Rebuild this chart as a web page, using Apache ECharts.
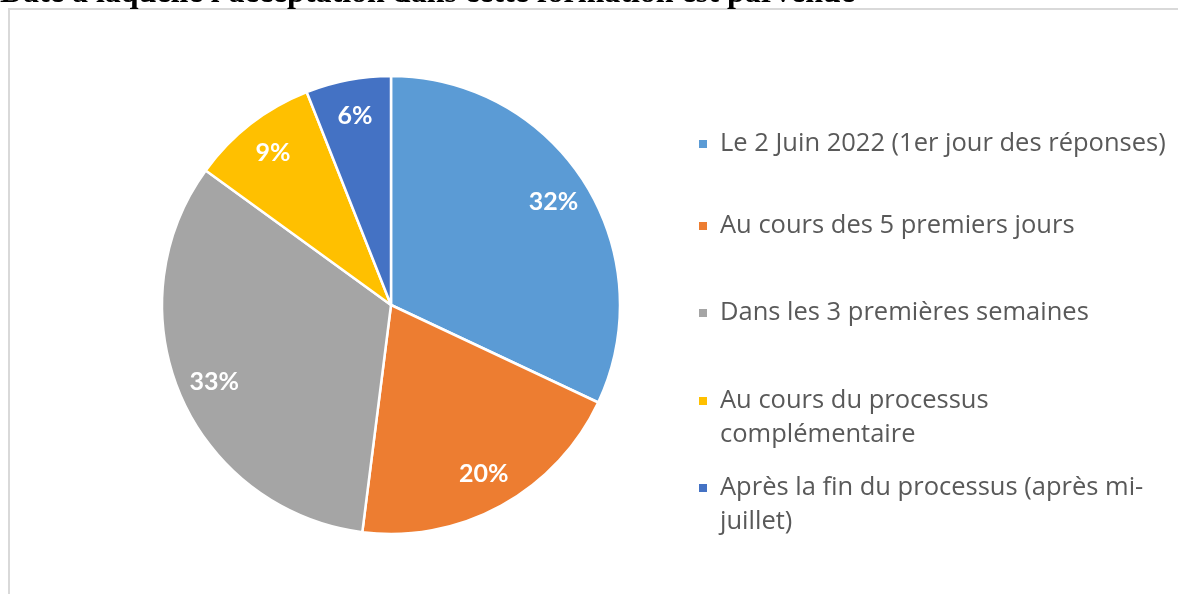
<!DOCTYPE html>
<html>
<head>
<meta charset="utf-8">
<script src="https://cdn.jsdelivr.net/npm/echarts@6/dist/echarts.min.js"></script>
<style>
  html, body { margin: 0; padding: 0; background: #fff; }
  #chart { width: 1178px; height: 594px; }
</style>
</head>
<body>
<div id="chart"></div>
<script>
// Categories and their shares (percent of answers)
const categories = [
  'Le 2 Juin 2022 (1er jour des réponses)',
  'Au cours des 5 premiers jours',
  'Dans les 3 premières semaines',
  'Au cours du processus\ncomplémentaire',
  'Après la fin du processus (après mi-\njuillet)'
];
const shares = [32, 20, 33, 9, 6];
const titleText = "Date à laquelle l'acceptation dans cette formation est parvenue";

// Office-style palette
const palette = ['#5B9BD5', '#ED7D31', '#A5A5A5', '#FFC000', '#4472C4'];

const pieData = categories.map((name, i) => ({ name, value: shares[i] }));

const CX = 391, CY = 305, R = 229;
const LEGEND_LEFT = 697;
const LINE_H = 34;
// vertical centre of each legend marker
const legendMarkerY = [144, 226, 313, 401, 488];

// One legend per entry so each marker sits exactly where wanted.
// Wrapped entries get an empty leading line so the marker lines up with
// the first line of text instead of the middle of the block.
const legends = categories.map((name, i) => {
  const twoLines = name.indexOf('\n') >= 0;
  const top = legendMarkerY[i] - (twoLines ? 51 : 17);
  return {
    left: LEGEND_LEFT,
    top: top,
    padding: 0,
    orient: 'vertical',
    selectedMode: false,
    icon: 'rect',
    itemWidth: 10,
    itemHeight: 10,
    data: [{ name: name }],
    formatter: twoLines ? (n => '\n' + n) : (n => n),
    textStyle: {
      color: '#595959',
      fontFamily: 'Open Sans',
      fontSize: 25.5,
      lineHeight: LINE_H,
      padding: [0, 0, 0, 7]
    }
  };
});

const chart = echarts.init(document.getElementById('chart'), null, { renderer: 'canvas' });
chart.setOption({
  animation: false,
  color: palette,
  graphic: [
    {
      type: 'rect',
      z: 0,
      shape: { x: 9, y: 9, width: 2000, height: 2000 },
      style: { fill: null, stroke: '#d9d9d9', lineWidth: 2 }
    },
    {
      type: 'text',
      z: 10,
      style: {
        x: 0,
        y: -6,
        text: titleText,
        font: 'bold 32px "Liberation Serif"',
        fill: '#000',
        verticalAlign: 'middle',
        align: 'left'
      }
    }
  ],
  legend: legends,
  series: [
    {
      type: 'pie',
      center: [CX, CY],
      radius: [0, R],
      startAngle: 90,
      clockwise: true,
      data: pieData,
      label: { show: false },
      labelLine: { show: false },
      itemStyle: { borderColor: '#fff', borderWidth: 2.5 },
      emphasis: { disabled: true },
      silent: true
    },
    {
      // transparent ring used only to place the percentage labels near the rim
      type: 'pie',
      center: [CX, CY],
      radius: [150, R],
      startAngle: 90,
      clockwise: true,
      data: pieData,
      itemStyle: { color: 'rgba(0,0,0,0)', borderWidth: 0 },
      label: {
        show: true,
        position: 'inside',
        formatter: '{c}%',
        color: '#fff',
        fontFamily: 'Lato',
        fontWeight: 'bold',
        fontSize: 25
      },
      labelLine: { show: false },
      emphasis: { disabled: true },
      silent: true
    }
  ]
});
</script>
</body>
</html>
